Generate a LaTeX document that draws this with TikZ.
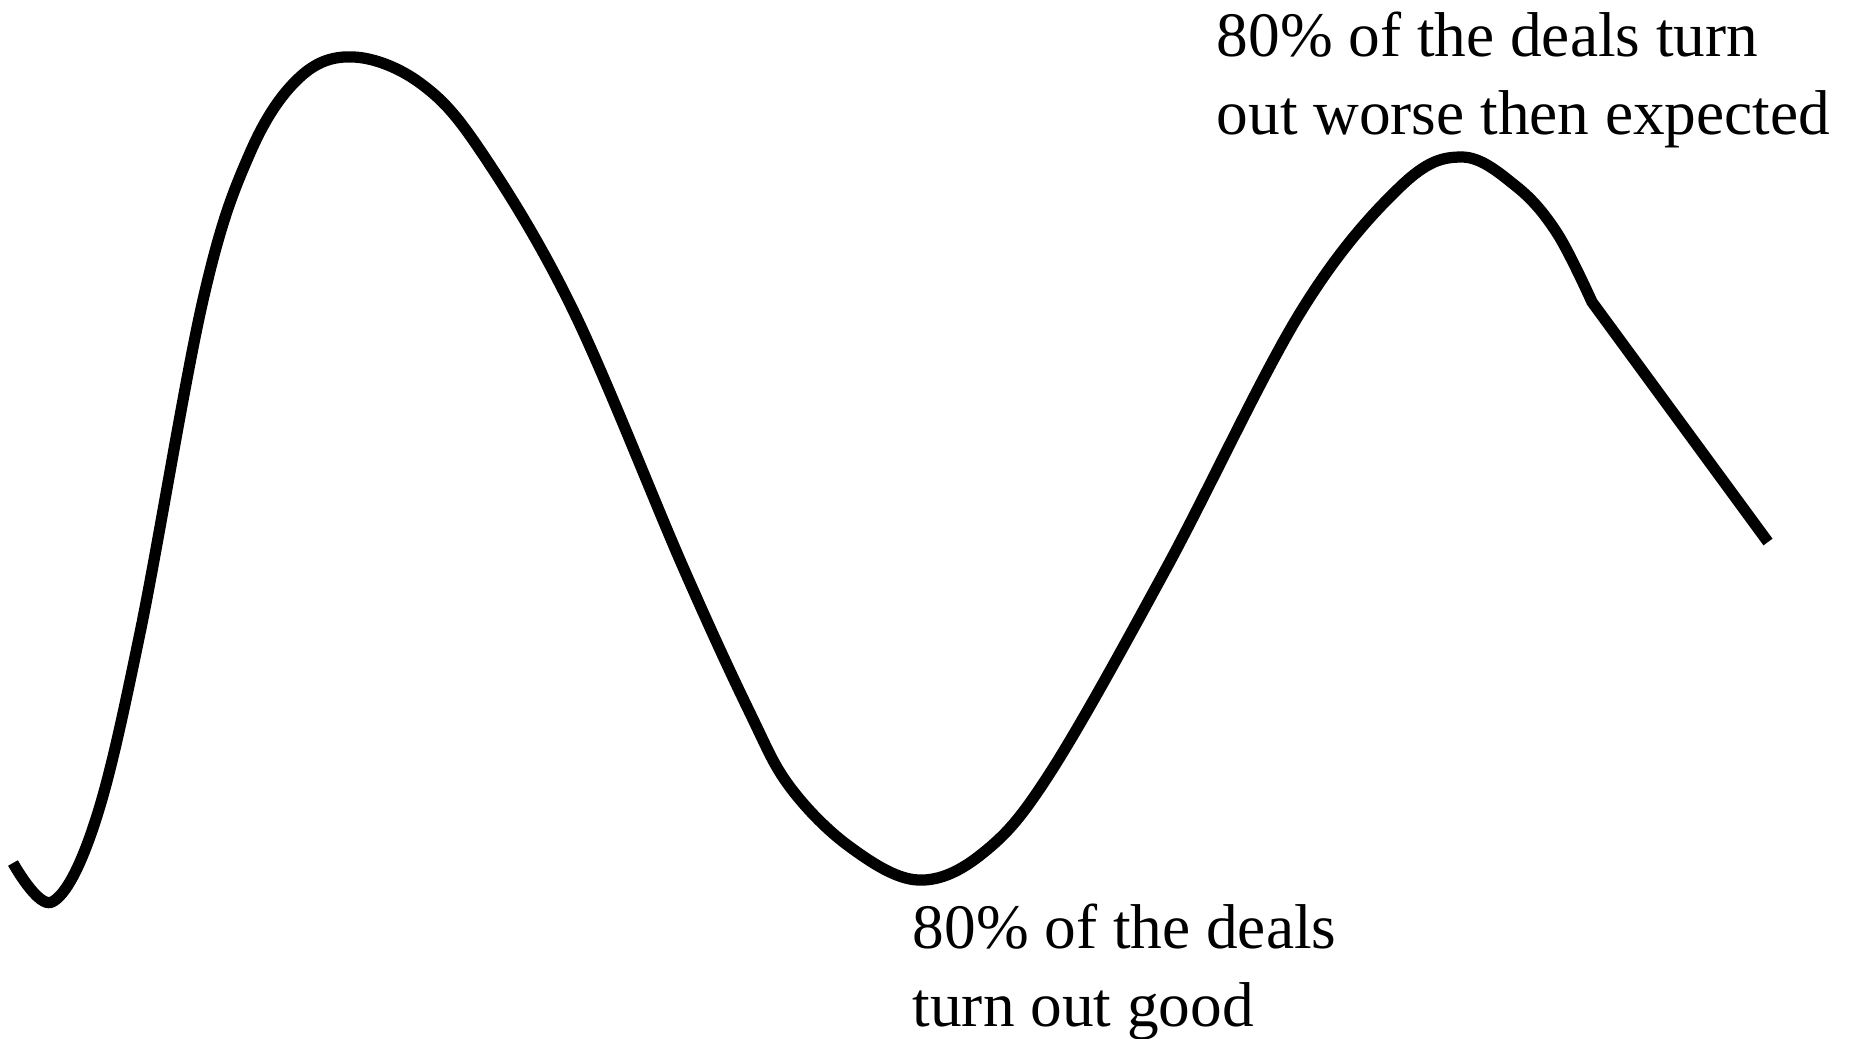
\documentclass[tikz,border=0pt]{standalone}
\usepackage{fontspec}
\setmainfont{Liberation Serif}
\tikzset{
  trend/.style={line width=3.2pt, line join=round},
  note/.style={anchor=north west, inner sep=0pt, align=left,
    font=\fontsize{18}{22.2}\selectfont},
}
\begin{document}
\begin{tikzpicture}[x=0.01cm, y=-0.01cm]
\useasboundingbox (0,0) rectangle (1853,1039);

\draw[trend] plot[smooth, tension=0.6] coordinates {
  (13,863) (52,902) (95,822) (140,633) (203,300) (250,153) (300,77)
  (354,57) (420,83) (480,150) (573,310) (683,567) (750,713) (790,787)
  (850,847) (918,880) (983,853) (1050,773) (1167,567) (1300,313)
  (1400,187) (1462,157) (1517,187) (1557,233) (1592,302)}
  -- (1768,542);

\node[note] (bad) at (1216,11) {80\% of the deals turn\\out worse then expected};
\node[note] (good) at (912,903) {80\% of the deals\\turn out good};
\end{tikzpicture}
\end{document}
